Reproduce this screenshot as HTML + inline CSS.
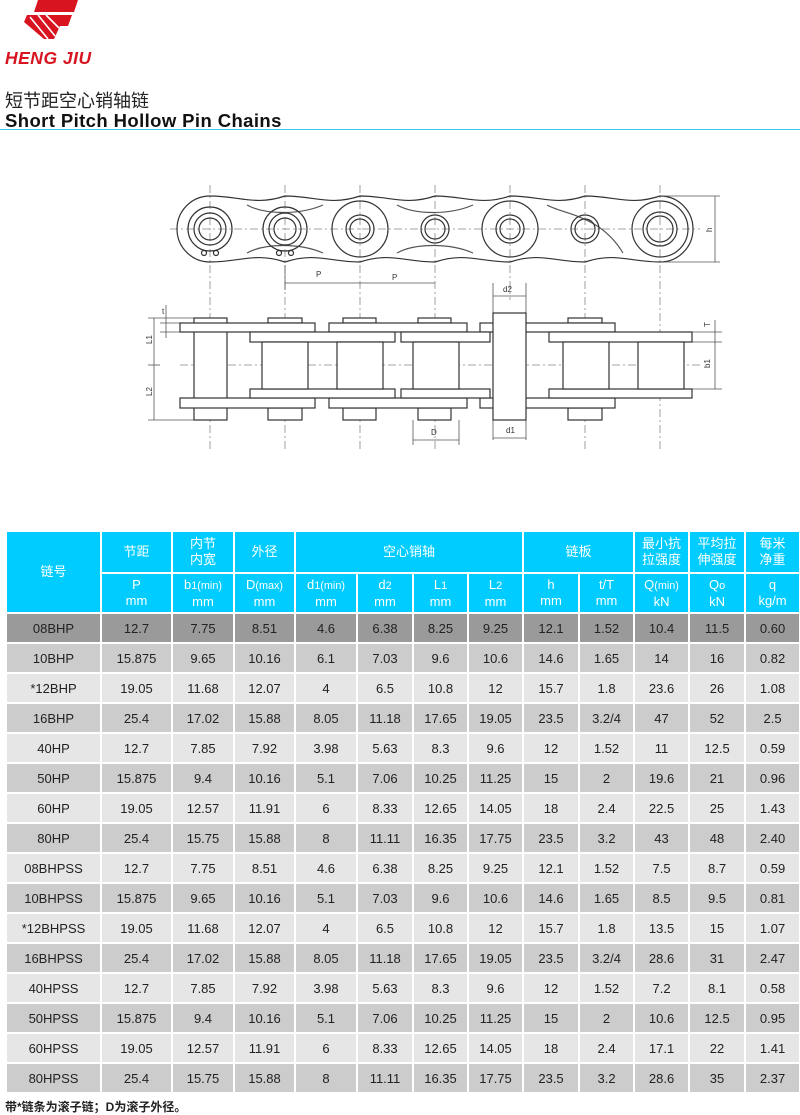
<!DOCTYPE html>
<html><head><meta charset="utf-8"><style>
body{margin:0;width:800px;height:1113px;background:#fff;position:relative;overflow:hidden;font-family:"Liberation Sans","Noto Sans CJK SC",sans-serif;}
.abs{position:absolute;}
table{position:absolute;left:5px;top:530px;border-collapse:collapse;table-layout:fixed;width:794px;}
td{border:2px solid #fff;text-align:center;padding:0;font-size:13px;color:#222;}
tr.h td{background:#00ccff;color:#fff;font-size:13px;line-height:16px;}
tr.d td{height:28px;}
</style></head><body>
<svg class="abs" style="left:0;top:0" width="120" height="70">
<polygon points="38,0 78,0 74,12 34,12" fill="#d7141f"/>
<polygon points="30,15 72,15 68,26 60,26 54,39 44,39 24,22 27,15" fill="#d7141f"/>
<line x1="30" y1="17" x2="48" y2="39" stroke="#fff" stroke-width="1.6"/>
<line x1="38" y1="15" x2="55" y2="36" stroke="#fff" stroke-width="1.6"/>
<line x1="46" y1="15" x2="59" y2="28" stroke="#fff" stroke-width="1.6"/>
<text x="5" y="64" font-family="Liberation Sans" font-weight="bold" font-style="italic" font-size="17.5" fill="#d7141f" letter-spacing="0.5">HENG JIU</text>
</svg>
<div class="abs" style="left:5px;top:87px;font-size:18px;color:#222;">短节距空心销轴链</div>
<div class="abs" style="left:5px;top:110px;font-size:18.5px;font-weight:bold;color:#111;letter-spacing:0.4px;">Short Pitch Hollow Pin Chains</div>
<div class="abs" style="left:0;top:129px;width:800px;height:1px;background:#33ccee;"></div>

<svg class="abs" style="left:0;top:0" width="800" height="460" fill="none" stroke="#333" stroke-width="1.2">
<g stroke="#888" stroke-dasharray="8,3,2,3" stroke-width="0.8">
<line x1="170" y1="229" x2="700" y2="229"/>
<line x1="210" y1="185" x2="210" y2="450"/><line x1="285" y1="185" x2="285" y2="450"/><line x1="360" y1="185" x2="360" y2="450"/><line x1="435" y1="185" x2="435" y2="450"/><line x1="510" y1="185" x2="510" y2="300"/><line x1="585" y1="185" x2="585" y2="450"/><line x1="660" y1="185" x2="660" y2="450"/>
<line x1="180" y1="365" x2="700" y2="365"/>
</g>
<path d="M210,196 A33,33 0 0 0 210,262 C240,262 255,252 285,262 C315,252 330,262 360,262 C390,252 405,262 435,262 C465,252 480,262 510,262 C540,252 555,262 585,262 C615,252 630,262 660,262 A33,33 0 0 0 660,196 C630,206 615,196 585,196 C555,206 540,196 510,196 C480,206 465,196 435,196 C405,206 390,196 360,196 C330,206 315,196 285,196 C255,206 240,196 210,196Z"/>
<path d="M247,205 C265,215 300,215 323,205 M247,253 C265,243 300,243 323,253 M397,205 C415,215 450,215 473,205 M397,253 C415,243 450,243 473,253 M547,205 C565,215 600,215 623,253" stroke="#555"/>
<g>
<circle cx="210" cy="229" r="22"/><circle cx="210" cy="229" r="16"/><circle cx="210" cy="229" r="11"/>
<circle cx="285" cy="229" r="22"/><circle cx="285" cy="229" r="16"/><circle cx="285" cy="229" r="11"/>
<circle cx="360" cy="229" r="28"/><circle cx="360" cy="229" r="14"/><circle cx="360" cy="229" r="10"/>
<circle cx="435" cy="229" r="14"/><circle cx="435" cy="229" r="10"/>
<circle cx="510" cy="229" r="28"/><circle cx="510" cy="229" r="14"/><circle cx="510" cy="229" r="10"/>
<circle cx="585" cy="229" r="14"/><circle cx="585" cy="229" r="10"/>
<circle cx="660" cy="229" r="28"/><circle cx="660" cy="229" r="17"/><circle cx="660" cy="229" r="13"/>
<circle cx="204" cy="253" r="2.5"/><circle cx="216" cy="253" r="2.5"/><circle cx="279" cy="253" r="2.5"/><circle cx="291" cy="253" r="2.5"/>
</g>
<g stroke="#555" stroke-width="0.8">
<line x1="660" y1="196" x2="720" y2="196"/><line x1="660" y1="262" x2="720" y2="262"/><line x1="715" y1="196" x2="715" y2="262"/>
<line x1="285" y1="265" x2="285" y2="290"/><line x1="285" y1="283" x2="435" y2="283"/>
<line x1="493" y1="283" x2="493" y2="440"/><line x1="526" y1="283" x2="526" y2="440"/><line x1="493" y1="296" x2="526" y2="296"/>
<line x1="413" y1="420" x2="413" y2="445"/><line x1="459" y1="420" x2="459" y2="445"/><line x1="413" y1="440" x2="459" y2="440"/>
<line x1="493" y1="438" x2="526" y2="438"/>
<line x1="148" y1="318" x2="195" y2="318"/><line x1="160" y1="323" x2="182" y2="323"/><line x1="160" y1="332" x2="182" y2="332"/><line x1="148" y1="420" x2="195" y2="420"/>
<line x1="154" y1="318" x2="154" y2="420"/><line x1="148" y1="365" x2="160" y2="365"/><line x1="166" y1="305" x2="166" y2="338"/>
<line x1="692" y1="332" x2="722" y2="332"/><line x1="692" y1="342" x2="722" y2="342"/><line x1="692" y1="389" x2="722" y2="389"/><line x1="715" y1="320" x2="715" y2="389"/>
</g>
<g fill="#333" stroke="none" font-family="Liberation Sans" font-size="8">
<text x="706" y="232" transform="rotate(-90 709 229)">h</text>
<text x="316" y="277">P</text><text x="392" y="280">P</text>
<text x="503" y="292">d2</text><text x="506" y="433">d1</text><text x="431" y="435">D</text>
<text x="146" y="344" transform="rotate(-90 149 341)">L1</text><text x="146" y="396" transform="rotate(-90 149 393)">L2</text>
<text x="162" y="314">t</text><text x="704" y="327" transform="rotate(-90 707 324)">T</text><text x="704" y="368" transform="rotate(-90 707 365)">b1</text>
</g>
<g fill="#fff">
<rect x="194" y="318" width="33" height="102"/>
<rect x="268" y="318" width="34" height="5"/><rect x="343" y="318" width="33" height="5"/><rect x="418" y="318" width="33" height="5"/><rect x="568" y="318" width="34" height="5"/>
<rect x="268" y="408" width="34" height="12"/><rect x="343" y="408" width="33" height="12"/><rect x="418" y="408" width="33" height="12"/><rect x="568" y="408" width="34" height="12"/>
<rect x="180" y="323" width="135" height="9"/><rect x="180" y="398" width="135" height="10"/>
<rect x="329" y="323" width="138" height="9"/><rect x="329" y="398" width="138" height="10"/>
<rect x="480" y="323" width="135" height="9"/><rect x="480" y="398" width="135" height="10"/>
<rect x="250" y="332" width="145" height="10"/><rect x="250" y="389" width="145" height="9"/>
<rect x="401" y="332" width="89" height="10"/><rect x="401" y="389" width="89" height="9"/>
<rect x="549" y="332" width="143" height="10"/><rect x="549" y="389" width="143" height="9"/>
<rect x="262" y="342" width="46" height="47"/><rect x="337" y="342" width="46" height="47"/><rect x="413" y="342" width="46" height="47"/><rect x="563" y="342" width="46" height="47"/><rect x="638" y="342" width="46" height="47"/>
<rect x="493" y="313" width="33" height="107"/>
</g>
</svg>

<table>
<colgroup><col style="width:95px"><col style="width:71px"><col style="width:62px"><col style="width:61px"><col style="width:62px"><col style="width:56px"><col style="width:55px"><col style="width:55px"><col style="width:56px"><col style="width:55px"><col style="width:55px"><col style="width:56px"><col style="width:55px"></colgroup>
<tr class="h" style="height:42px"><td rowspan="2">链号</td><td>节距</td><td>内节<br>内宽</td><td>外径</td><td colspan="4">空心销轴</td><td colspan="2">链板</td><td>最小抗<br>拉强度</td><td>平均拉<br>伸强度</td><td>每米<br>净重</td></tr>
<tr class="h" style="height:40px"><td>P<br>mm</td><td>b<small>1(min)</small><br>mm</td><td>D<small>(max)</small><br>mm</td><td>d<small>1(min)</small><br>mm</td><td>d<small>2</small><br>mm</td><td>L<small>1</small><br>mm</td><td>L<small>2</small><br>mm</td><td>h<br>mm</td><td>t/T<br>mm</td><td>Q<small>(min)</small><br>kN</td><td>Q<small>o</small><br>kN</td><td>q<br>kg/m</td></tr>
<tr class="d" style="background:#9a9a9a"><td>08BHP</td><td>12.7</td><td>7.75</td><td>8.51</td><td>4.6</td><td>6.38</td><td>8.25</td><td>9.25</td><td>12.1</td><td>1.52</td><td>10.4</td><td>11.5</td><td>0.60</td></tr>
<tr class="d" style="background:#cccccc"><td>10BHP</td><td>15.875</td><td>9.65</td><td>10.16</td><td>6.1</td><td>7.03</td><td>9.6</td><td>10.6</td><td>14.6</td><td>1.65</td><td>14</td><td>16</td><td>0.82</td></tr>
<tr class="d" style="background:#e6e6e6"><td>*12BHP</td><td>19.05</td><td>11.68</td><td>12.07</td><td>4</td><td>6.5</td><td>10.8</td><td>12</td><td>15.7</td><td>1.8</td><td>23.6</td><td>26</td><td>1.08</td></tr>
<tr class="d" style="background:#cccccc"><td>16BHP</td><td>25.4</td><td>17.02</td><td>15.88</td><td>8.05</td><td>11.18</td><td>17.65</td><td>19.05</td><td>23.5</td><td>3.2/4</td><td>47</td><td>52</td><td>2.5</td></tr>
<tr class="d" style="background:#e6e6e6"><td>40HP</td><td>12.7</td><td>7.85</td><td>7.92</td><td>3.98</td><td>5.63</td><td>8.3</td><td>9.6</td><td>12</td><td>1.52</td><td>11</td><td>12.5</td><td>0.59</td></tr>
<tr class="d" style="background:#cccccc"><td>50HP</td><td>15.875</td><td>9.4</td><td>10.16</td><td>5.1</td><td>7.06</td><td>10.25</td><td>11.25</td><td>15</td><td>2</td><td>19.6</td><td>21</td><td>0.96</td></tr>
<tr class="d" style="background:#e6e6e6"><td>60HP</td><td>19.05</td><td>12.57</td><td>11.91</td><td>6</td><td>8.33</td><td>12.65</td><td>14.05</td><td>18</td><td>2.4</td><td>22.5</td><td>25</td><td>1.43</td></tr>
<tr class="d" style="background:#cccccc"><td>80HP</td><td>25.4</td><td>15.75</td><td>15.88</td><td>8</td><td>11.11</td><td>16.35</td><td>17.75</td><td>23.5</td><td>3.2</td><td>43</td><td>48</td><td>2.40</td></tr>
<tr class="d" style="background:#e6e6e6"><td>08BHPSS</td><td>12.7</td><td>7.75</td><td>8.51</td><td>4.6</td><td>6.38</td><td>8.25</td><td>9.25</td><td>12.1</td><td>1.52</td><td>7.5</td><td>8.7</td><td>0.59</td></tr>
<tr class="d" style="background:#cccccc"><td>10BHPSS</td><td>15.875</td><td>9.65</td><td>10.16</td><td>5.1</td><td>7.03</td><td>9.6</td><td>10.6</td><td>14.6</td><td>1.65</td><td>8.5</td><td>9.5</td><td>0.81</td></tr>
<tr class="d" style="background:#e6e6e6"><td>*12BHPSS</td><td>19.05</td><td>11.68</td><td>12.07</td><td>4</td><td>6.5</td><td>10.8</td><td>12</td><td>15.7</td><td>1.8</td><td>13.5</td><td>15</td><td>1.07</td></tr>
<tr class="d" style="background:#cccccc"><td>16BHPSS</td><td>25.4</td><td>17.02</td><td>15.88</td><td>8.05</td><td>11.18</td><td>17.65</td><td>19.05</td><td>23.5</td><td>3.2/4</td><td>28.6</td><td>31</td><td>2.47</td></tr>
<tr class="d" style="background:#e6e6e6"><td>40HPSS</td><td>12.7</td><td>7.85</td><td>7.92</td><td>3.98</td><td>5.63</td><td>8.3</td><td>9.6</td><td>12</td><td>1.52</td><td>7.2</td><td>8.1</td><td>0.58</td></tr>
<tr class="d" style="background:#cccccc"><td>50HPSS</td><td>15.875</td><td>9.4</td><td>10.16</td><td>5.1</td><td>7.06</td><td>10.25</td><td>11.25</td><td>15</td><td>2</td><td>10.6</td><td>12.5</td><td>0.95</td></tr>
<tr class="d" style="background:#e6e6e6"><td>60HPSS</td><td>19.05</td><td>12.57</td><td>11.91</td><td>6</td><td>8.33</td><td>12.65</td><td>14.05</td><td>18</td><td>2.4</td><td>17.1</td><td>22</td><td>1.41</td></tr>
<tr class="d" style="background:#cccccc"><td>80HPSS</td><td>25.4</td><td>15.75</td><td>15.88</td><td>8</td><td>11.11</td><td>16.35</td><td>17.75</td><td>23.5</td><td>3.2</td><td>28.6</td><td>35</td><td>2.37</td></tr>
</table>
<div class="abs" style="left:5px;top:1098px;font-size:12px;font-weight:bold;color:#222;">带*链条为滚子链；D为滚子外径。</div>
</body></html>
